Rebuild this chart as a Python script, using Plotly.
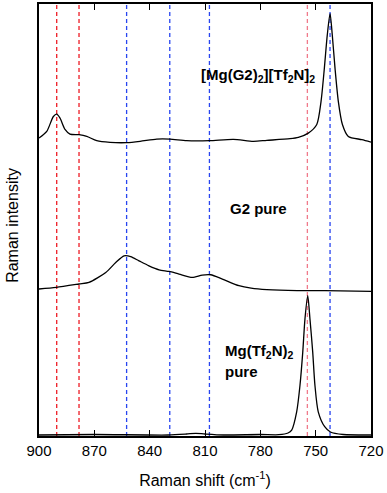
import plotly.graph_objects as go

# ------------------------------------------------------------------
# data (x: Raman shift in cm-1, y: intensity,
# traces already stacked with their vertical offsets)
# ------------------------------------------------------------------
mg_g2_x = [900, 895.8, 892.2, 890.4, 888.6, 885.9, 883.2, 878.3, 874.1, 868.7,
           861.5, 852.5, 845.2, 836.2, 829.1, 819.9, 807.6, 794.6, 783.8, 776.5,
           763.9, 759.4, 754.0, 749.4, 747.1, 745.3, 743.7, 742.2, 741.0, 739.5,
           737.7, 735.5, 732.3, 725.0, 720]
mg_g2_y = [299.3, 306, 321, 323.3, 319.3, 308, 303.3, 302.7, 301, 296.7,
           295, 294.7, 296, 298.3, 298.3, 296.7, 296.7, 298, 296, 297,
           298.7, 300, 304.3, 313, 336, 369.3, 403, 424.3, 403, 369.3,
           336, 313, 301, 297.7, 295.3]

g2_x = [900, 890.6, 878.3, 872.9, 863.8, 858.4, 853.9, 850.3, 845.8, 840.4,
        834.9, 829.5, 824.1, 816.9, 811.5, 806.9, 800.6, 791.6, 785, 776.5,
        760, 745, 720]
g2_y = [147.7, 149.3, 152.7, 154.3, 164.3, 174.3, 181, 180.3, 176, 171,
        167, 165.3, 162.7, 159.3, 161.7, 162, 157.7, 151, 148.5, 147,
        146, 146, 145.3]

mgtf_x = [900, 870, 830, 820, 815, 810, 800, 780, 770, 765, 763, 760.3,
          758.5, 757.0, 755.8, 754.3, 753.1, 751.6, 750.4, 748.6, 745.1, 742,
          735, 720]
mgtf_y = [1, 1.5, 1, 2, 2.7, 2, 1, 1.5, 1.3, 3, 6, 24.3,
          51, 84.3, 117.7, 141, 117.7, 84.3, 51, 24.3, 9.3, 4,
          1.5, 1]

red_lines = [890.4, 878.3]
pink_lines = [754.5]
blue_lines = [852.5, 829.1, 807.6, 742.2]

x_ticks = [900, 870, 840, 810, 780, 750, 720]

FONT = "Liberation Sans, Arial, sans-serif"

fig = go.Figure()

for xs, ys in [(mg_g2_x, mg_g2_y), (g2_x, g2_y), (mgtf_x, mgtf_y)]:
    fig.add_trace(go.Scatter(x=xs, y=ys, mode="lines",
                             line=dict(color="black", width=1.3, shape="spline", smoothing=0.7),
                             showlegend=False, hoverinfo="skip"))

# dashed reference lines
for vals, col in [(red_lines, "#ee1c25"), (pink_lines, "#f07a8a"), (blue_lines, "#2845f0")]:
    for v in vals:
        fig.add_shape(type="line", xref="x", yref="paper", x0=v, x1=v, y0=0, y1=1,
                      line=dict(color=col, width=1.3, dash="4px,3px"), layer="below")

# labels
lab = dict(family=FONT, size=15, color="black")
fig.add_annotation(x=0.66, y=0.862, xref="paper", yref="paper", showarrow=False,
                   text="<b>[Mg(G2)<sub>2</sub>][Tf<sub>2</sub>N]<sub>2</sub></b>", font=lab)
fig.add_annotation(x=0.66, y=0.526, xref="paper", yref="paper", showarrow=False,
                   text="<b>G2 pure</b>", font=lab)
fig.add_annotation(x=0.554, y=0.17, xref="paper", yref="paper", showarrow=False,
                   xanchor="left", align="left",
                   text="<b>Mg(Tf<sub>2</sub>N)<sub>2</sub></b>", font=lab)
fig.add_annotation(x=0.554, y=0.125, xref="paper", yref="paper", showarrow=False,
                   xanchor="left", align="left", text="<b>pure</b>", font=lab)
fig.add_annotation(x=-0.111, y=0.488, xref="paper", yref="paper", showarrow=False,
                   textangle=-90, text="Raman intensity",
                   font=dict(family=FONT, size=16, color="black"))

fig.update_layout(
    width=387, height=493,
    margin=dict(l=39, r=16, t=2, b=57),
    paper_bgcolor="white", plot_bgcolor="white",
    font=dict(family=FONT, color="black"),
    xaxis=dict(range=[900, 720], tickvals=x_ticks, ticks="inside", ticklen=6,
               tickwidth=1, tickcolor="black", showline=True, linecolor="black",
               linewidth=1.5, mirror="ticks", showgrid=False, zeroline=False,
               tickfont=dict(size=15),
               title=dict(text="Raman shift (cm<sup>-1</sup>)", font=dict(size=16), standoff=17)),
    yaxis=dict(range=[0, 434], showticklabels=False, ticks="", showline=True,
               linecolor="black", linewidth=1.5, mirror=True, showgrid=False,
               zeroline=False),
)

# drop the browser's default body margin so the figure sits at the window corner
fig.write_html("out.html", config={"displayModeBar": False},
               post_script="document.body.style.margin='0px';")
